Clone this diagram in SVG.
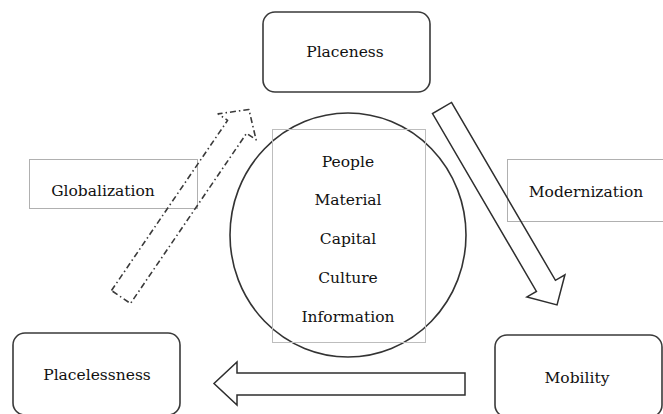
<svg xmlns="http://www.w3.org/2000/svg" width="663" height="414" viewBox="0 0 663 414">
  <style>
    .node { fill: #ffffff; stroke: #3a3a3a; stroke-width: 1.6; }
    .label-box { fill: none; stroke: #b0b0b0; stroke-width: 1; }
    .txt { font-family: "DejaVu Serif", "Liberation Serif", serif; font-size: 15.5px; fill: #111111; text-anchor: middle; }
    .arrow { fill: none; stroke: #2e2e2e; stroke-width: 1.5; stroke-linejoin: miter; }
    .arrow-dashed { fill: none; stroke: #3a3a3a; stroke-width: 1.6; stroke-dasharray: 6 3 1.5 3; stroke-linejoin: round; }
  </style>
  <rect width="663" height="414" fill="#ffffff"/>

  <!-- side labels -->
  <g id="globalization">
    <rect class="label-box" x="29.5" y="159.5" width="168" height="49"/>
    <text class="txt" x="103" y="196">Globalization</text>
  </g>
  <g id="modernization">
    <rect class="label-box" x="507.5" y="159.5" width="160" height="62"/>
    <text class="txt" x="586" y="197">Modernization</text>
  </g>

  <!-- central resources -->
  <g id="resources">
    <ellipse cx="348" cy="235" rx="118" ry="122" fill="none" stroke="#333333" stroke-width="1.6"/>
    <rect x="272.5" y="129.5" width="153" height="213" fill="none" stroke="#bdbdbd" stroke-width="1"/>
    <text class="txt" x="348" y="167">People</text>
    <text class="txt" x="348" y="205">Material</text>
    <text class="txt" x="348" y="244">Capital</text>
    <text class="txt" x="348" y="283">Culture</text>
    <text class="txt" x="348" y="322">Information</text>
  </g>

  <!-- main states -->
  <g id="placeness">
    <rect class="node" x="263" y="12" width="167" height="80" rx="12"/>
    <text class="txt" x="345" y="57">Placeness</text>
  </g>
  <g id="placelessness">
    <rect class="node" x="13" y="333" width="167" height="82" rx="12"/>
    <text class="txt" x="97" y="380">Placelessness</text>
  </g>
  <g id="mobility">
    <rect class="node" x="495" y="335" width="167" height="82" rx="12"/>
    <text class="txt" x="577" y="383">Mobility</text>
  </g>

  <!-- block arrows -->
  <g id="connectors">
    <polygon class="arrow" transform="translate(442,108) rotate(59.7)" points="0,-11 206,-11 206,-22 228,0 206,22 206,11 0,11"/>
    <polygon class="arrow" points="465,373 237,373 237,362 214,383.5 237,405 237,395 465,395"/>
    <polygon class="arrow-dashed" transform="translate(121,297) rotate(-55.7)" points="0,-11.5 206,-11.5 206,-23 227,0 206,23 206,11.5 0,11.5"/>
  </g>
</svg>
